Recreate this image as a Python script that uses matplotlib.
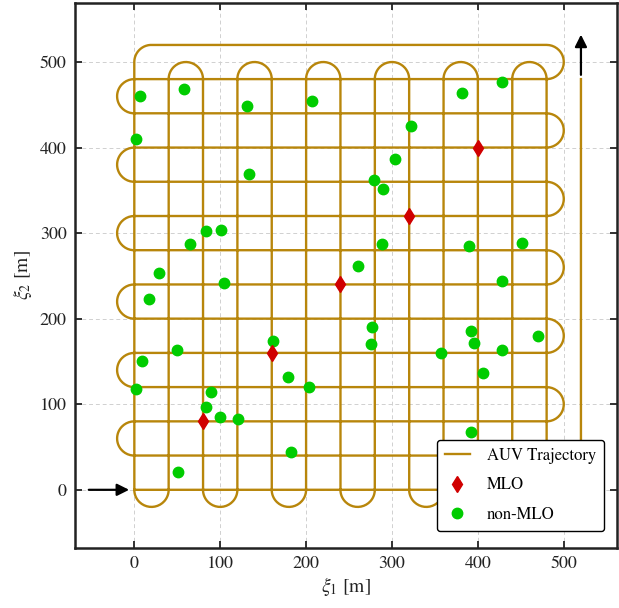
import numpy as np
import matplotlib
matplotlib.use("Agg")
import matplotlib.pyplot as plt

plt.rcParams['font.family'] = ['STIXGeneral', 'DejaVu Serif']
plt.rcParams['mathtext.fontset'] = 'stix'

# ---- data ----
leg_x = [0, 40, 80, 120, 160, 200, 240, 280, 320, 360, 400, 440, 480]   # vertical survey legs
leg_y = [0, 40, 80, 120, 160, 200, 240, 280, 320, 360, 400, 440, 480]   # horizontal survey legs
turn_r = 20
top_y = 520
exit_x = 520
exit_top = 480

mlo_x = [80, 160, 240, 320, 400]
mlo_y = [80, 160, 240, 320, 400]

non_x = [7, 58, 131, 2, 133, 207, 382, 428, 322, 303, 279, 290, 83, 101, 65, 29, 105, 17,
         261, 288, 390, 451, 428, 277, 276, 161, 50, 9, 179, 203, 2, 89, 84, 100, 121, 183,
         51, 357, 392, 396, 428, 470, 406, 392]
non_y = [460, 468, 449, 410, 369, 455, 464, 477, 425, 387, 362, 351, 302, 304, 287, 253, 242, 223,
         262, 287, 285, 289, 244, 190, 170, 174, 163, 150, 132, 120, 118, 114, 97, 85, 83, 44,
         21, 160, 186, 172, 163, 180, 137, 68]

start_arrow = ((-53, 0), (-6, 0))
end_arrow = ((520, 485), (520, 532))


def arc(cx, cy, r, a0, a1, n=40):
    t = np.linspace(np.radians(a0), np.radians(a1), n)
    return list(cx + r * np.cos(t)), list(cy + r * np.sin(t))


# build trajectory
px, py = [], []
xmin, xmax = leg_x[0], leg_x[-1]
for i, y in enumerate(leg_y):
    if i % 2 == 0:
        px += [xmin, xmax]; py += [y, y]
        if i < len(leg_y) - 1:
            ax_, ay_ = arc(xmax, y + turn_r, turn_r, -90, 90)
            px += ax_; py += ay_
    else:
        px += [xmax, xmin]; py += [y, y]
        ax_, ay_ = arc(xmin, y + turn_r, turn_r, 270, 90)
        px += ax_; py += ay_
# top return
ylast = leg_y[-1]
ax_, ay_ = arc(xmax, ylast + turn_r, turn_r, -90, 90)
px += ax_; py += ay_
px += [xmin + turn_r]; py += [top_y]
ax_, ay_ = arc(xmin + turn_r, top_y - turn_r, turn_r, 90, 180)
px += ax_; py += ay_
# vertical lawnmower
ylo, yhi = leg_y[0], leg_y[-1]
for j, x in enumerate(leg_x):
    if j % 2 == 0:
        px += [x, x]; py += [yhi if j > 0 else top_y - turn_r, ylo]
        nx = leg_x[j + 1] if j + 1 < len(leg_x) else exit_x
        ax_, ay_ = arc((x + nx) / 2, ylo, (nx - x) / 2, 180, 360)
        px += ax_; py += ay_
    else:
        px += [x, x]; py += [ylo, yhi]
        nx = leg_x[j + 1]
        ax_, ay_ = arc((x + nx) / 2, yhi, (nx - x) / 2, 180, 0)
        px += ax_; py += ay_
px += [exit_x, exit_x]; py += [ylo, exit_top]

gold = '#B8860B'

fig = plt.figure(figsize=(6.19, 6.08), dpi=100)
ax = fig.add_axes([0.1212, 0.0987, 0.8756, 0.8964])

ax.grid(True, color='#d0d0d0', linestyle=(0, (4, 3)), linewidth=0.7, zorder=0)
ax.plot(px, py, color=gold, lw=1.7, zorder=2, label='AUV Trajectory')
ax.plot(mlo_x, mlo_y, 'd', color='#D00000', markersize=8, zorder=4, linestyle='none', label='MLO')
ax.plot(non_x, non_y, 'o', color='#00CC00', markersize=7.5, zorder=3, linestyle='none', label='non-MLO')

for (x0, y0), (x1, y1) in [start_arrow, end_arrow]:
    ax.annotate('', xy=(x1, y1), xytext=(x0, y0),
                arrowprops=dict(arrowstyle='-|>', color='black', lw=1.6, mutation_scale=18,
                                shrinkA=0, shrinkB=0), zorder=5)

ax.set_xlim(-69, 562)
ax.set_ylim(-68, 569)
ax.set_xticks([0, 100, 200, 300, 400, 500])
ax.set_yticks([0, 100, 200, 300, 400, 500])
ax.tick_params(direction='in', length=5, width=1.3, top=True, right=True, labelsize=13, colors='#222222',
               labelcolor='#222222', pad=6)
for s in ax.spines.values():
    s.set_linewidth(1.8)
    s.set_color('#222222')

ax.set_xlabel(r'$\xi_1$ [m]', fontsize=14, color='#222222', labelpad=2)
ax.set_ylabel(r'$\xi_2$ [m]', fontsize=14, color='#222222', labelpad=4)

leg = ax.legend(loc='lower right', bbox_to_anchor=(0.976, 0.031), borderaxespad=0, fontsize=12,
                frameon=True, fancybox=True, framealpha=1, edgecolor='black', handlelength=1.5,
                labelspacing=0.8, borderpad=0.5, handletextpad=1.0)
leg.get_frame().set_linewidth(1.0)
leg.set_zorder(10)

fig.savefig('out.png', dpi=100)
